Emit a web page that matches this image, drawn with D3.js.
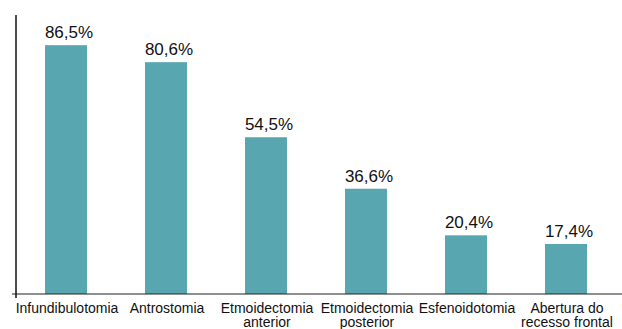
<!DOCTYPE html>
<html>
<head>
<meta charset="utf-8">
<script src="https://cdn.jsdelivr.net/npm/d3@7"></script>
<style>
  body { margin: 0; background: #fff; }
  svg { display: block; font-family: Arial, "Liberation Sans", sans-serif; }
</style>
</head>
<body>
<div id="chart"></div>
<script>
// procedures and their share (%)
const categories = [
  ["Infundibulotomia"],
  ["Antrostomia"],
  ["Etmoidectomia", "anterior"],
  ["Etmoidectomia", "posterior"],
  ["Esfenoidotomia"],
  ["Abertura do", "recesso frontal"]
];
const values = [86.5, 80.6, 54.5, 36.6, 20.4, 17.4];
const valueLabels = ["86,5%", "80,6%", "54,5%", "36,6%", "20,4%", "17,4%"];

const width = 622;
const height = 329;
const baseY = 294;
const topY = 15;
const axisX = 16;

const svg = d3.select("#chart")
  .append("svg")
    .attr("width", width)
    .attr("height", height);

const keys = categories.map(c => c.join(" "));
const x = d3.scaleBand()
  .domain(keys)
  .range([16, 616])
  .paddingInner(0.58)
  .paddingOuter(0.29);
const y = d3.scaleLinear([0, 97], [baseY, topY]);

// bars
svg.selectAll("rect.bar")
  .data(values)
  .join("rect")
    .attr("class", "bar")
    .attr("x", (d, i) => x(keys[i]))
    .attr("y", d => y(d))
    .attr("width", x.bandwidth())
    .attr("height", d => y(0) - y(d))
    .attr("fill", "#58a6b0");

// value labels
svg.selectAll("text.val")
  .data(values)
  .join("text")
    .attr("class", "val")
    .attr("x", (d, i) => x(keys[i]) + x.bandwidth() / 2 + 3)
    .attr("y", d => y(d) - 7)
    .attr("text-anchor", "middle")
    .style("font-size", "17px")
    .attr("fill", "#111")
    .text((d, i) => valueLabels[i]);

// x axis line
svg.append("line")
  .attr("x1", axisX - 4).attr("x2", width)
  .attr("y1", baseY).attr("y2", baseY)
  .attr("stroke", "#222")
  .attr("stroke-width", 1.2);

// y axis line
svg.append("line")
  .attr("x1", axisX).attr("x2", axisX)
  .attr("y1", topY).attr("y2", baseY + 4)
  .attr("stroke", "#111")
  .attr("stroke-width", 1.5);

// category labels
const lab = svg.selectAll("text.cat")
  .data(categories)
  .join("text")
    .attr("class", "cat")
    .attr("x", (d, i) => x(keys[i]) + x.bandwidth() / 2 + 1)
    .attr("y", 313)
    .attr("text-anchor", "middle")
    .style("font-size", "14px")
    .attr("fill", "#111");
lab.selectAll("tspan")
  .data(d => d)
  .join("tspan")
    .attr("x", function() { return this.parentNode.getAttribute("x"); })
    .attr("dy", (d, i) => i === 0 ? 0 : 14)
    .text(d => d);
</script>
</body>
</html>
